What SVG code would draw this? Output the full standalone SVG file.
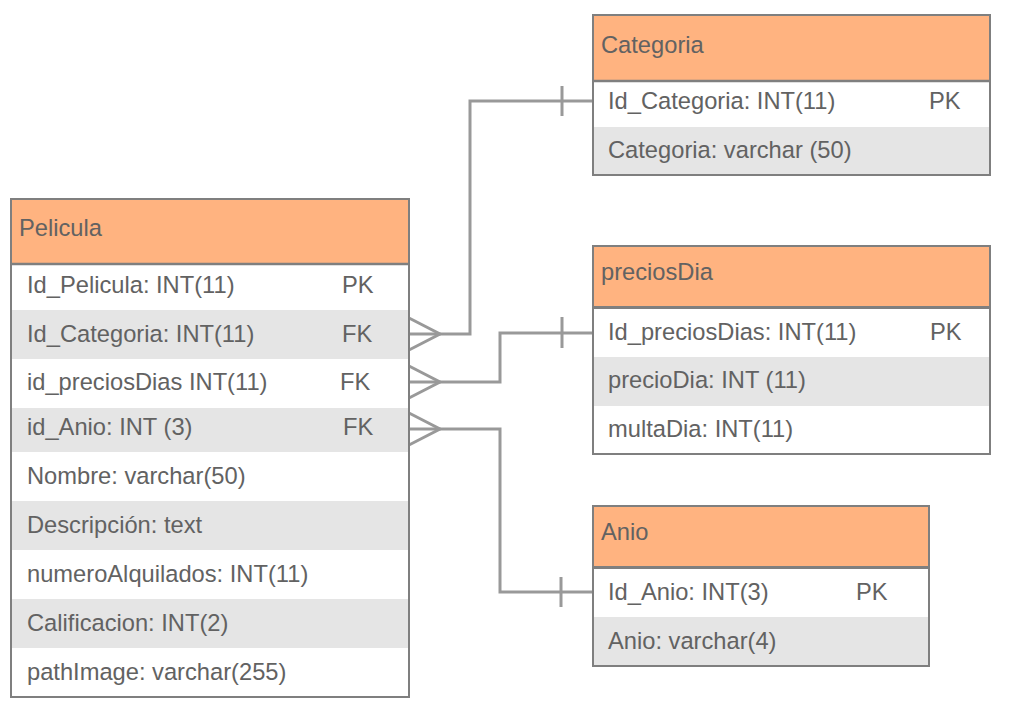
<svg xmlns="http://www.w3.org/2000/svg" width="1014" height="708" viewBox="0 0 1014 708">
<style>
text{font-family:"Liberation Sans",Arial,sans-serif;font-size:23.7px;fill:#626262}
.hd{fill:#FFB380}
.gr{fill:#E5E5E5}
.wh{fill:#FFFFFF}
.bd{fill:none;stroke:#7f7f7f;stroke-width:2}
.sep{stroke:#7f7f7f;stroke-width:2.5}
.cn{fill:none;stroke:#999999;stroke-width:3}
</style>
<rect width="1014" height="708" fill="#ffffff"/>
<g id="connectors">
  <path class="cn" d="M409,334 H470 V101 H593"/>
  <path class="cn" d="M562,86 V116"/>
  <path class="cn" d="M409,318 L440,334 L409,350"/>
  <path class="cn" d="M409,382 H500 V333 H593"/>
  <path class="cn" d="M562,317 V348"/>
  <path class="cn" d="M409,366 L440,382 L409,398"/>
  <path class="cn" d="M409,429 H500 V592 H593"/>
  <path class="cn" d="M561,577 V607"/>
  <path class="cn" d="M409,413 L440,429 L409,445"/>
</g>
<g id="pelicula">
  <rect class="hd" x="11" y="199" width="398" height="65"/>
  <rect class="wh" x="11" y="264" width="398" height="46"/>
  <rect class="gr" x="11" y="310" width="398" height="49"/>
  <rect class="wh" x="11" y="359" width="398" height="49"/>
  <rect class="gr" x="11" y="408" width="398" height="44"/>
  <rect class="wh" x="11" y="452" width="398" height="49"/>
  <rect class="gr" x="11" y="501" width="398" height="49"/>
  <rect class="wh" x="11" y="550" width="398" height="49"/>
  <rect class="gr" x="11" y="599" width="398" height="49"/>
  <rect class="wh" x="11" y="648" width="398" height="49"/>
  <line class="sep" x1="11" y1="264" x2="409" y2="264"/>
  <rect class="bd" x="11" y="199" width="398" height="498"/>
  <text x="19" y="236">Pelicula</text>
  <text x="27" y="293">Id_Pelicula: INT(11)</text><text x="342" y="293">PK</text>
  <text x="27" y="342">Id_Categoria: INT(11)</text><text x="342" y="342">FK</text>
  <text x="27" y="390">id_preciosDias INT(11)</text><text x="340" y="390">FK</text>
  <text x="27" y="435">id_Anio: INT (3)</text><text x="343" y="435">FK</text>
  <text x="27" y="484">Nombre: varchar(50)</text>
  <text x="27" y="533">Descripción: text</text>
  <text x="27" y="582">numeroAlquilados: INT(11)</text>
  <text x="27" y="631">Calificacion: INT(2)</text>
  <text x="27" y="680">pathImage: varchar(255)</text>
</g>
<g id="categoria">
  <rect class="hd" x="593" y="15" width="397" height="66"/>
  <rect class="wh" x="593" y="81" width="397" height="46"/>
  <rect class="gr" x="593" y="127" width="397" height="48"/>
  <line class="sep" x1="593" y1="81" x2="990" y2="81"/>
  <rect class="bd" x="593" y="15" width="397" height="160"/>
  <text x="601" y="53">Categoria</text>
  <text x="608" y="109">Id_Categoria: INT(11)</text><text x="929" y="109">PK</text>
  <text x="608" y="158">Categoria: varchar (50)</text>
</g>
<g id="preciosDia">
  <rect class="hd" x="593" y="246" width="397" height="61"/>
  <rect class="wh" x="593" y="308" width="397" height="49"/>
  <rect class="gr" x="593" y="357" width="397" height="49"/>
  <rect class="wh" x="593" y="406" width="397" height="48"/>
  <line class="sep" x1="593" y1="307.5" x2="990" y2="307.5" style="stroke-width:3"/>
  <rect class="bd" x="593" y="246" width="397" height="208"/>
  <text x="601" y="280">preciosDia</text>
  <text x="608" y="340">Id_preciosDias: INT(11)</text><text x="930" y="340">PK</text>
  <text x="608" y="388">precioDia: INT (11)</text>
  <text x="608" y="437">multaDia: INT(11)</text>
</g>
<g id="anio">
  <rect class="hd" x="593" y="506" width="336" height="61"/>
  <rect class="wh" x="593" y="567" width="336" height="50"/>
  <rect class="gr" x="593" y="617" width="336" height="49"/>
  <line class="sep" x1="593" y1="567.5" x2="929" y2="567.5" style="stroke-width:3"/>
  <rect class="bd" x="593" y="506" width="336" height="160"/>
  <text x="601" y="540">Anio</text>
  <text x="608" y="600">Id_Anio: INT(3)</text><text x="856" y="600">PK</text>
  <text x="608" y="649">Anio: varchar(4)</text>
</g>
</svg>
